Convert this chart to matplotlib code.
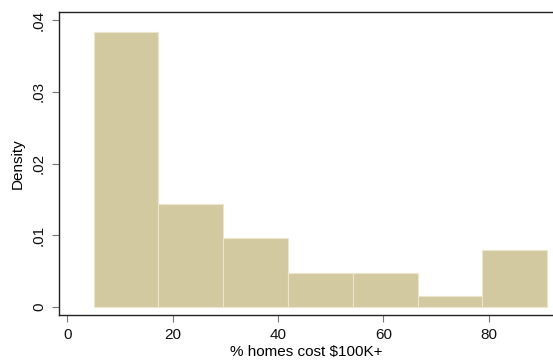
import numpy as np
import matplotlib
matplotlib.use("Agg")
from matplotlib import pyplot as plt

plt.rcParams['font.family'] = ['Liberation Sans', 'DejaVu Sans']

# histogram bins (% homes cost $100K+) and densities
bin_edges = [5.0, 17.3, 29.6, 41.9, 54.2, 66.5, 78.8, 91.1]
density = [0.0383, 0.0144, 0.0096, 0.0047, 0.0047, 0.0015, 0.0080]

xticks = [0, 20, 40, 60, 80]
yticks = [0, 0.01, 0.02, 0.03, 0.04]
ytick_labels = ['0', '.01', '.02', '.03', '.04']

fig = plt.figure(figsize=(5.53, 3.62), dpi=100)
ax = fig.add_axes([0.106, 0.1285, 0.896, 0.8392])

edges = np.array(bin_edges)
ax.bar(edges[:-1], density, width=np.diff(edges), align='edge',
       color='#d2c9a1', edgecolor='#ebe5cc', linewidth=0.8)

ax.set_xlim(-1.63, 92.4)
ax.set_ylim(-0.00118, 0.04116)

ax.set_xticks(xticks)
ax.set_yticks(yticks)
ax.set_yticklabels(ytick_labels, rotation=90, va='center')
ax.tick_params(axis='both', length=5, width=0.8, color='#777777',
               labelsize=11, labelcolor='#111111')
ax.tick_params(axis='x', pad=4)
ax.tick_params(axis='y', pad=4)

for s in ['left', 'top', 'bottom']:
    ax.spines[s].set_color('#222222')
    ax.spines[s].set_linewidth(1.0)
ax.spines['right'].set_visible(False)

ax.set_xlabel('% homes cost $100K+', fontsize=11, labelpad=2)
ax.set_ylabel('Density', fontsize=11, labelpad=5)

fig.savefig('out.png', dpi=100)
